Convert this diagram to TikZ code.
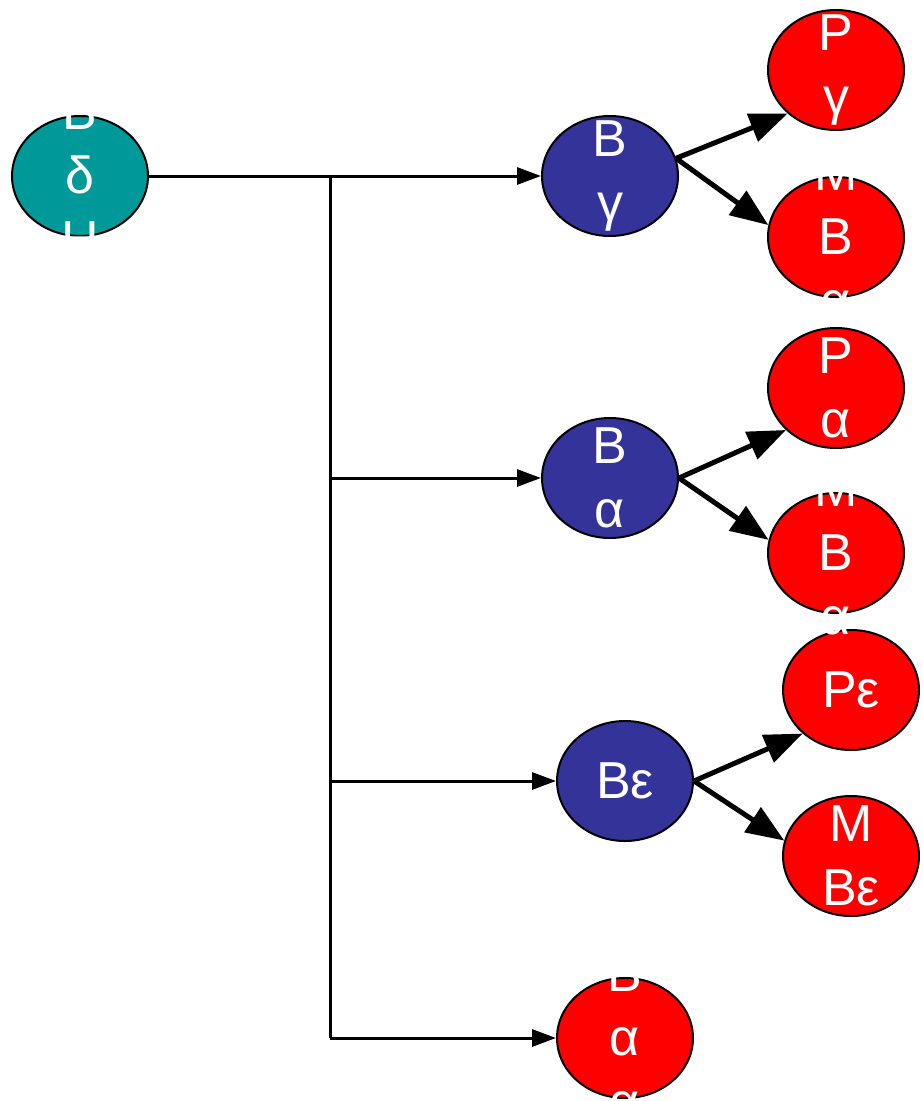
\documentclass[tikz,border=0pt]{standalone}
\usepackage{fontspec}
\setmainfont{Liberation Sans}
\usetikzlibrary{shapes.geometric,arrows.meta}
\definecolor{teal1}{HTML}{009999}
\definecolor{navy1}{HTML}{333399}
\definecolor{red1}{HTML}{FF0000}
\begin{document}
\begin{tikzpicture}[x=1pt,y=-1pt,
  oval/.style={ellipse,draw=black,line width=2pt,minimum width=136pt,minimum height=120pt,inner sep=0pt},
  rootn/.style={oval,fill=teal1},
  midn/.style={oval,fill=navy1},
  leafn/.style={oval,fill=red1},
  lbl/.style={text=white,align=center,font=\fontsize{52}{64}\selectfont,inner sep=0pt},
  thin/.style={line width=3pt},
  thinarr/.style={thin,-{Triangle[length=24pt,width=17pt]}},
  fat/.style={line width=5pt,-{Triangle[length=38pt,width=29pt]}}]
\useasboundingbox (0,0) rectangle (923,1101);
% nodes
\node[rootn] (root) at (80,176) {};
\node[midn] (bg) at (610,176) {};
\node[midn] (ba) at (610,478) {};
\node[midn] (be) at (625,781) {};
\node[leafn] (pg) at (836,70) {};
\node[leafn] (mbg) at (836,237) {};
\node[leafn] (pa) at (836,388) {};
\node[leafn] (mba) at (836,553) {};
\node[leafn] (pe) at (851,690) {};
\node[leafn] (mbe) at (851,856) {};
\node[leafn] (bottom) at (625,1038) {};
% connectors
\coordinate (j0) at (330,176);
\coordinate (j1) at (330,478);
\coordinate (j2) at (330,781);
\coordinate (j3) at (330,1038);
\draw[thinarr] (root.east) -- (bg.west);
\draw[thin] (j0) -- (j3);
\draw[thinarr] (j1) -- (ba.west);
\draw[thinarr] (j2) -- (be.west);
\draw[thinarr] (j3) -- (bottom.west);
\draw[fat] (bg.15) -- (pg.222);
\draw[fat] (bg.15) -- (mbg.170);
\draw[fat] (ba.east) -- (pa.220);
\draw[fat] (ba.east) -- (mba.169);
\draw[fat] (be.east) -- (pe.222);
\draw[fat] (be.east) -- (mbe.167);
% labels
\node[lbl] (troot) at (root.center) {B\\δ\\H};
\node[lbl] (tbg) at (bg.center) {B\\γ};
\node[lbl] (tba) at (ba.center) {B\\α};
\node[lbl] (tbe) at (be.center) {Bε};
\node[lbl] (tpg) at (pg.center) {P\\γ};
\node[lbl] (tmbg) at (mbg.center) {M\\B\\α};
\node[lbl] (tpa) at (pa.center) {P\\α};
\node[lbl] (tmba) at (mba.center) {M\\B\\α};
\node[lbl] (tpe) at (pe.center) {Pε};
\node[lbl] (tmbe) at (mbe.center) {M\\Bε};
\node[lbl] (tbottom) at (bottom.center) {B\\α\\α};
\end{tikzpicture}
\end{document}
